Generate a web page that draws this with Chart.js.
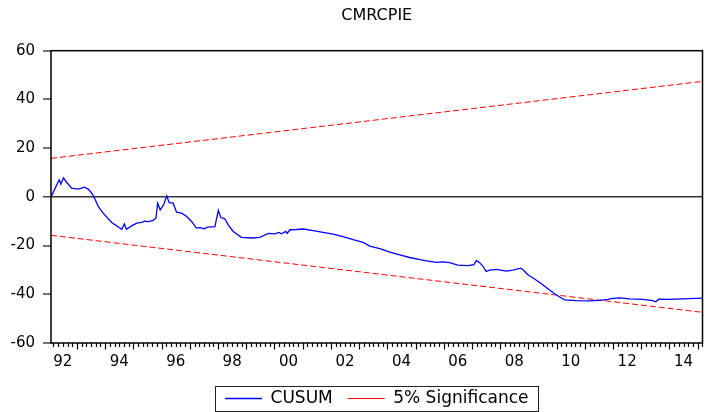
<!DOCTYPE html>
<html>
<head>
<meta charset="utf-8">
<script src="https://cdn.jsdelivr.net/npm/chart.js@4/dist/chart.umd.min.js"></script>
<style>
  html, body { margin: 0; padding: 0; background: #fff; }
  #wrap { width: 705px; height: 412px; }
</style>
</head>
<body>
<div id="wrap"><canvas id="c" width="705" height="412"></canvas></div>
<script>
// ---- Data ----
const chartTitle = 'CMRCPIE';
const startDate = 1992.08;   // 1992M2
const endDate = 2015.17;     // 2015M3

const cusumDates = [1992.08,1992.37,1992.43,1992.52,1992.64,1992.81,1993.05,1993.26,1993.40,1993.54,1993.64,1993.76,1993.93,1994.23,1994.59,1994.68,1994.75,1994.94,1995.12,1995.29,1995.41,1995.53,1995.70,1995.80,1995.86,1995.95,1996.07,1996.18,1996.27,1996.41,1996.53,1996.71,1996.89,1997.06,1997.24,1997.36,1997.51,1997.63,1997.89,1998.01,1998.10,1998.24,1998.36,1998.54,1998.83,1999.19,1999.48,1999.78,2000.01,2000.16,2000.25,2000.40,2000.45,2000.55,2000.78,2001.02,2001.37,2001.72,2002.08,2002.43,2002.79,2003.14,2003.38,2003.73,2004.09,2004.44,2004.79,2005.15,2005.50,2005.74,2005.97,2006.21,2006.50,2006.86,2007.07,2007.16,2007.27,2007.39,2007.50,2007.63,2007.86,2008.22,2008.45,2008.73,2008.81,2008.98,2009.22,2009.46,2009.69,2009.93,2010.11,2010.28,2010.70,2011.17,2011.52,2011.82,2011.99,2012.23,2012.59,2013.06,2013.41,2013.51,2013.62,2014.00,2014.47,2015.17];
const cusumValues = [0,7.0,5.2,7.8,5.9,3.6,3.2,4.0,3.2,1.2,-1.0,-4.0,-6.7,-10.5,-13.3,-11.1,-13.3,-11.9,-10.8,-10.5,-10.0,-10.2,-9.7,-8.7,-2.6,-5.3,-3.3,0.4,-2.4,-2.6,-6.3,-6.7,-8.1,-10.1,-12.8,-12.6,-13.1,-12.4,-12.2,-5.6,-8.5,-9.0,-11.5,-14.2,-16.6,-16.9,-16.6,-15.0,-15.2,-14.6,-15.2,-14.2,-15.0,-13.5,-13.4,-13.2,-13.9,-14.6,-15.3,-16.3,-17.6,-18.7,-20.2,-21.3,-22.7,-23.8,-24.9,-25.8,-26.5,-26.9,-26.7,-27.0,-28.0,-28.2,-27.8,-26.1,-27.0,-28.5,-30.6,-30.1,-29.8,-30.5,-30.1,-29.3,-29.9,-32.0,-33.7,-35.7,-37.7,-39.8,-41.1,-42.3,-42.6,-42.7,-42.5,-42.1,-41.7,-41.5,-41.9,-42.1,-42.6,-43.1,-42.0,-42.1,-41.9,-41.6];

const sigDates = [startDate, endDate];
const sigUpper = [15.8, 47.4];
const sigLower = [-15.8, -47.4];

const yMin = -60, yMax = 60, yStep = 20;
const xLabelYears = [1992,1994,1996,1998,2000,2002,2004,2006,2008,2010,2012,2014];
const xTickLabels = ['92','94','96','98','00','02','04','06','08','10','12','14'];

const seriesNames = ['CUSUM', '5% Significance'];

// ---- Helpers ----
const toXY = (xs, ys) => xs.map((x, i) => ({ x: x, y: ys[i] }));
const FONT = 'DejaVu Sans';

const framePlugin = {
  id: 'frame',
  afterDraw(chart) {
    const { ctx, chartArea: a, scales } = chart;
    const xs = scales.x;
    ctx.save();
    // x axis tick marks: bi-monthly minor, yearly major
    ctx.strokeStyle = '#000';
    ctx.lineWidth = 1.2;
    const y0 = Math.floor(xs.min), y1 = Math.ceil(xs.max);
    for (let yr = y0; yr <= y1; yr++) {
      for (let k = 0; k < 6; k++) {
        const t = yr + k / 6;
        if (t < xs.min - 1e-6 || t > xs.max + 1e-6) continue;
        const px = Math.round(xs.getPixelForValue(t)) + 0.5;
        const len = k === 0 ? 6.5 : 4;
        ctx.beginPath();
        ctx.moveTo(px, a.bottom);
        ctx.lineTo(px, a.bottom + len);
        ctx.stroke();
      }
    }
    // plot frame
    ctx.lineWidth = 1.5;
    ctx.strokeStyle = '#000';
    ctx.strokeRect(a.left, a.top, a.right - a.left, a.bottom - a.top);
    // legend border box
    const lg = chart.legend;
    if (lg && lg.legendHitBoxes && lg.legendHitBoxes.length) {
      const hb = lg.legendHitBoxes;
      const first = hb[0], last = hb[hb.length - 1];
      const left = first.left - 10;
      const right = last.left + last.width + 10;
      const cy = first.top + first.height / 2;
      ctx.lineWidth = 1;
      ctx.strokeStyle = '#222';
      ctx.strokeRect(Math.round(left) + 0.5, Math.round(cy - 12.5) + 0.5, Math.round(right - left), 25);
    }
    ctx.restore();
  }
};

new Chart(document.getElementById('c'), {
  type: 'line',
  data: {
    datasets: [
      { label: seriesNames[0], data: toXY(cusumDates, cusumValues), borderColor: '#0000ff', backgroundColor: '#0000ff', borderWidth: 1.3, pointRadius: 0, tension: 0, fill: false },
      { label: seriesNames[1], data: toXY(sigDates, sigUpper), borderColor: '#ff0000', backgroundColor: '#ff0000', borderWidth: 1, borderDash: [6, 3], pointRadius: 0, fill: false },
      { label: seriesNames[1], data: toXY(sigDates, sigLower), borderColor: '#ff0000', backgroundColor: '#ff0000', borderWidth: 1, borderDash: [6, 3], pointRadius: 0, fill: false }
    ]
  },
  options: {
    responsive: false,
    animation: false,
    devicePixelRatio: 1,
    layout: { padding: { left: 0, right: 2.5, top: 0, bottom: 0 } },
    plugins: {
      title: {
        display: true, text: chartTitle, fullSize: false, color: '#000',
        font: { family: FONT, size: 16, weight: 'normal' },
        padding: { top: 6, bottom: 25.5 }
      },
      legend: {
        position: 'bottom', fullSize: false, maxHeight: 37,
        labels: {
          filter: item => item.datasetIndex < 2,
          usePointStyle: true, pointStyle: 'line', pointStyleWidth: 37,
          color: '#000', font: { family: FONT, size: 17 }, padding: 15
        }
      },
      tooltip: { enabled: false }
    },
    scales: {
      x: {
        type: 'linear', min: startDate, max: endDate,
        afterFit: s => { s.height = 32; },
        afterBuildTicks: s => { s.ticks = xLabelYears.map(y => ({ value: y + 0.5 })); },
        grid: { display: false, drawTicks: false },
        border: { display: false },
        ticks: {
          padding: 10, color: '#000', font: { family: FONT, size: 15 },
          maxRotation: 0, autoSkip: false,
          callback: v => { const i = xLabelYears.indexOf(Math.floor(v)); return i >= 0 ? xTickLabels[i] : ''; }
        }
      },
      y: {
        min: yMin, max: yMax,
        afterFit: s => { s.width = 51; },
        ticks: { stepSize: yStep, padding: 8, color: '#000', font: { family: FONT, size: 15 } },
        grid: {
          color: c => (c.tick && c.tick.value === 0) ? '#333' : 'rgba(0,0,0,0)',
          lineWidth: c => (c.tick && c.tick.value === 0) ? 1.5 : 0,
          tickColor: '#444', tickLength: 8, tickWidth: 1.5
        },
        border: { display: false }
      }
    }
  },
  plugins: [framePlugin]
});
</script>
</body>
</html>
